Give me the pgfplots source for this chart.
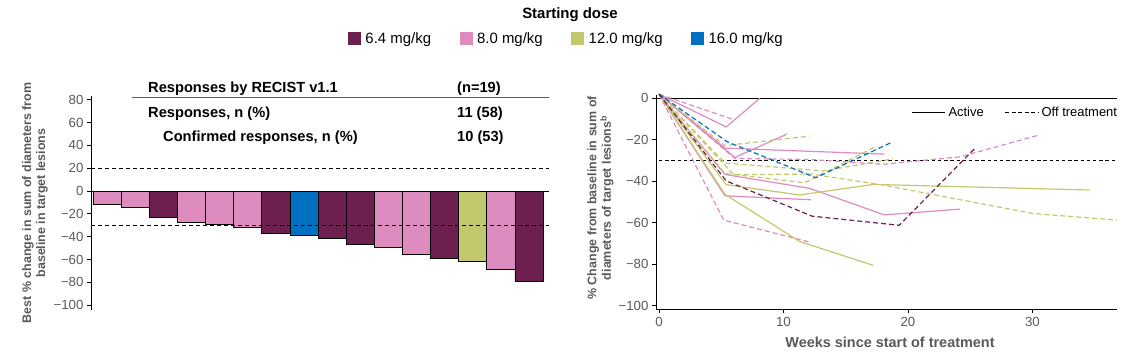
\documentclass[border=0pt]{standalone}
\usepackage{fontspec}
\setmainfont{Liberation Sans}
\usepackage{pgfplots}
\pgfplotsset{compat=1.18}
\definecolor{cpurple}{HTML}{6D1F4F}
\definecolor{cpink}{HTML}{DE8BBF}
\definecolor{cgreen}{HTML}{C3C76E}
\definecolor{cblue}{HTML}{0070C0}
\definecolor{lgray}{HTML}{595959}
\newcommand{\fs}[1]{\fontsize{#1}{#1}\selectfont}
\begin{document}
\begin{tikzpicture}
\path[use as bounding box] (0,0) rectangle (1148bp,360bp);
% ---------------- left: waterfall ----------------
\begin{axis}[
  at={(91bp,50bp)}, anchor=south west,
  scale only axis, width=458bp, height=214bp,
  xmin=-0.57, xmax=15.71, ymin=-104.3, ymax=83.3,
  axis x line=none, axis y line=left,
  axis line style={-, black, line width=0.8bp},
  ytick={-100,-80,-60,-40,-20,0,20,40,60,80},
  yticklabels={−100,−80,−60,−40,−20,0,20,40,60,80},
  tick align=outside, major tick length=4bp,
  tick style={black, line width=0.8bp},
  yticklabel style={font=\fs{13.3}, text=lgray},
  ybar, bar width=1,
  clip=false,
  ylabel={Best \% change in sum of diameters from\\baseline in target lesions},
  every axis y label/.style={at={(axis description cs:-0.1223,0.5)}, rotate=90, anchor=center},
  ylabel style={font=\bfseries\fontsize{12.5}{14}\selectfont, text=lgray, align=center},
  legend columns=4,
  legend style={draw=none, fill=none, at={(axis description cs:0.5611,1.2664)}, anchor=west,
    inner sep=0pt, outer sep=0pt, font=\fs{15}, nodes={inner sep=0pt},
    /tikz/every odd column/.append style={column sep=4.5bp},
    /tikz/every even column/.append style={column sep=28.5bp}},
  legend image code/.code={\fill[#1,draw=none] (0bp,-6.5bp) rectangle (13bp,6.5bp);},
]
\addplot[fill=cpurple, draw=black, line width=0.7bp, bar shift=0pt] coordinates {(2,-22.9)(6,-36.8)(8,-41.2)(9,-46.4)(12,-58.6)(15,-79.4)};
\addlegendentry{6.4 mg/kg}
\addplot[fill=cpink, draw=black, line width=0.7bp, bar shift=0pt] coordinates {(0,-11.6)(1,-14.2)(3,-27.2)(4,-29.0)(5,-31.9)(10,-49.0)(11,-55.1)(14,-69.0)};
\addlegendentry{8.0 mg/kg}
\addplot[fill=cgreen, draw=black, line width=0.7bp, bar shift=0pt] coordinates {(13,-61.4)};
\addlegendentry{12.0 mg/kg}
\addplot[fill=cblue, draw=black, line width=0.7bp, bar shift=0pt] coordinates {(7,-38.6)};
\addlegendentry{16.0 mg/kg}
\addplot[sharp plot, forget plot, black, line width=0.9bp] coordinates {(-0.57,0)(15.71,0)};
\addplot[sharp plot, forget plot, black, line width=0.8bp, dash pattern=on 4bp off 3bp] coordinates {(-0.57,20)(15.71,20)};
\addplot[sharp plot, forget plot, black, line width=0.8bp, dash pattern=on 4bp off 3bp] coordinates {(-0.57,-30)(15.71,-30)};
\end{axis}
% legend title
\node[font=\bfseries\fs{15}] at (570bp,345.5bp) {Starting dose};
% table
\begin{scope}[every node/.style={font=\bfseries\fs{14.7}, inner sep=0pt}]
\node[anchor=west] at (148bp,271bp) {Responses by RECIST v1.1};
\node[anchor=west] at (457bp,271bp) {(n=19)};
\draw[lgray, line width=0.9bp] (132bp,263bp) -- (549bp,263bp);
\node[anchor=west] at (148bp,246.5bp) {Responses, n (\%)};
\node[anchor=west] at (457bp,246.5bp) {11 (58)};
\node[anchor=west] at (163bp,222bp) {Confirmed responses, n (\%)};
\node[anchor=west] at (457bp,222bp) {10 (53)};
\end{scope}
% ---------------- right: spider ----------------
\begin{axis}[
  at={(656bp,50.7bp)}, anchor=south west,
  scale only axis, width=461bp, height=214.3bp,
  xmin=-0.24, xmax=36.8, ymin=-101.7, ymax=1.6,
  axis x line=bottom, axis y line=left,
  axis line style={-, black, line width=0.8bp},
  xtick={0,10,20,30}, xticklabels={0,10,20,30},
  ytick={-100,-80,-60,-40,-20,0},
  yticklabels={−100,−80,−60,−40,−20,0},
  tick align=outside, major tick length=4bp,
  tick style={black, line width=0.8bp},
  ticklabel style={font=\fs{13.3}, text=lgray},
  clip=false,
  xlabel={Weeks since start of treatment},
  every axis x label/.style={at={(axis description cs:0.5076,-0.1526)}, anchor=center},
  xlabel style={font=\bfseries\fs{14.5}, text=lgray},
  ylabel={\% Change from baseline in sum of\\diameters of target lesions\textsuperscript{b}},
  every axis y label/.style={at={(axis description cs:-0.1204,0.52)}, rotate=90, anchor=center},
  ylabel style={font=\bfseries\fontsize{12.5}{14.5}\selectfont, text=lgray, align=center},
  legend columns=2,
  legend style={draw=none, fill=none, at={(axis description cs:1.0,0.92)}, anchor=east,
    inner sep=0pt, outer sep=0pt, font=\fs{13}, nodes={inner sep=0pt},
    /tikz/every odd column/.append style={column sep=3bp},
    /tikz/every even column/.append style={column sep=21bp}},
  legend image code/.code={\draw[#1] (0bp,0bp) -- (33bp,0bp);},
  every axis plot/.append style={line width=1.2bp},
]
\addplot[forget plot, black, line width=0.9bp] coordinates {(-0.24,0)(36.8,0)};
\addplot[forget plot, black, line width=0.8bp, dash pattern=on 3.5bp off 2.7bp] coordinates {(0,-30)(36.8,-30)};
% pink solid (active)
\addplot[forget plot, cpink] coordinates {(0,2)(5.4,-13.8)(8.1,0)};
\addplot[forget plot, cpink] coordinates {(0,2)(6.1,-28.5)(10.3,-17.2)};
\addplot[forget plot, cpink] coordinates {(0,2)(5.3,-24)(18.1,-26.9)};
\addplot[forget plot, cpink] coordinates {(0,2)(5.3,-36.7)(12.1,-43.4)(18.1,-56.2)(24.2,-53.4)};
\addplot[forget plot, cpink] coordinates {(0,2)(5.3,-47)(12.2,-48.9)};
% pink dashed (off treatment)
\addplot[forget plot, cpink, dash pattern=on 5bp off 3bp] coordinates {(0,2)(6.0,-10.3)};
\addplot[forget plot, cpink, dash pattern=on 5bp off 3bp] coordinates {(0,2)(5.2,-58.7)(12.1,-69.3)};
\addplot[forget plot, cpink, dash pattern=on 5bp off 3bp] coordinates {(0,2)(6.1,-29)(12.2,-29.5)(18,-31.8)(24.2,-28.2)(30.6,-17.6)};
% green solid
\addplot[forget plot, cgreen] coordinates {(0,2)(5.4,-41.6)(11.3,-46.6)(17.2,-41.5)(34.6,-44.2)};
\addplot[forget plot, cgreen] coordinates {(0,2)(5.3,-46.3)(11.3,-69)(17.2,-80.5)};
% green dashed
\addplot[forget plot, cgreen, dash pattern=on 5bp off 3bp] coordinates {(0,2)(5.3,-22.8)(12.1,-18.2)};
\addplot[forget plot, cgreen, dash pattern=on 5bp off 3bp] coordinates {(0,2)(5.3,-36.2)(11.7,-40.7)(17.5,-23)};
\addplot[forget plot, cgreen, dash pattern=on 5bp off 3bp] coordinates {(0,2)(5.3,-31.2)(13.2,-35)(18.8,-29.2)};
\addplot[forget plot, cgreen, dash pattern=on 5bp off 3bp] coordinates {(0,2)(6,-36.8)(12.2,-36.5)(18,-41.8)(30,-55.5)(36.8,-58.7)};
% blue dashed
\addplot[forget plot, cblue, dash pattern=on 5bp off 3bp] coordinates {(0,2)(5.5,-21)(12.6,-38.3)(18.7,-21.2)};
% purple dashed
\addplot[forget plot, cpurple, dash pattern=on 5bp off 3bp] coordinates {(0,2)(5.4,-39.8)(12.3,-56.8)(19.3,-61.2)(25.4,-24)};
% legend
\addlegendimage{black, line width=0.9bp}
\addlegendentry{Active}
\addlegendimage{black, line width=0.9bp, dash pattern=on 4bp off 2.5bp}
\addlegendentry{Off treatment}
\end{axis}
\end{tikzpicture}
\end{document}
